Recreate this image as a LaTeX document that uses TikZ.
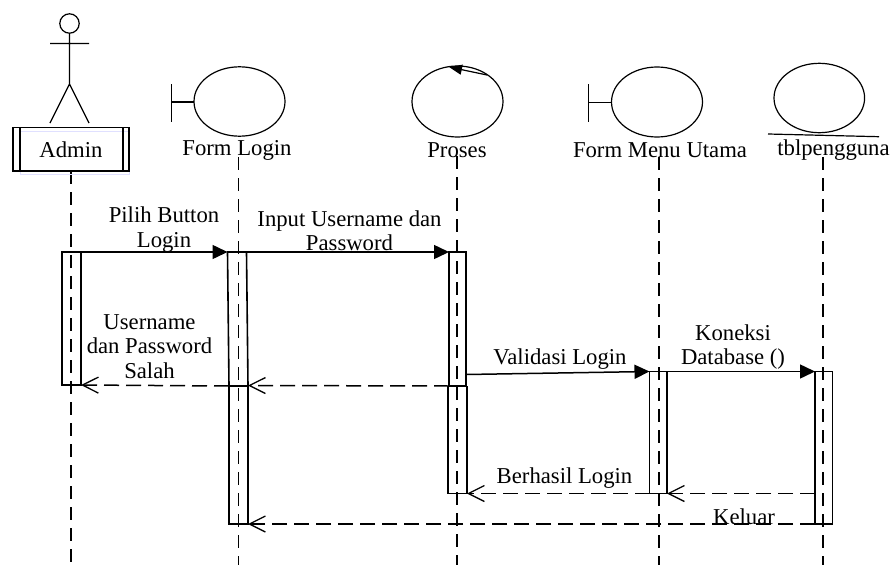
\documentclass[tikz,border=0pt]{standalone}
\usepackage{fontspec}
\setmainfont{Liberation Serif}
\usetikzlibrary{arrows.meta}
\tikzset{
  x=1pt,y=-1pt,
  lbl/.style={inner sep=0pt,font=\fontsize{22.7}{24.3}\selectfont,align=center},
  shapeline/.style={draw=black,line width=1.2pt},
  lifeline/.style={draw=black,line width=1.5pt,dash pattern=on 13pt off 8pt},
  activation/.style={draw=black,line width=1.6pt},
  call/.style={draw=black,line width=1.5pt,-{Triangle[length=15pt,width=14pt]}},
  reply/.style={draw=black,line width=1.5pt,dash pattern=on 15pt off 7pt,-{Straight Barb[length=16pt,width=16pt,line width=1.3pt]}},
}
\begin{document}
\begin{tikzpicture}
\useasboundingbox (0,0) rectangle (892,565);
% anchors
\coordinate (adminTop) at (71,171); \coordinate (adminEnd) at (71,565);
\coordinate (loginTop) at (238.5,157); \coordinate (loginEnd) at (238.5,565);
\coordinate (prosesTop) at (457,156); \coordinate (prosesEnd) at (457,565);
\coordinate (menuTop) at (659,157); \coordinate (menuEnd) at (659,565);
\coordinate (tblTop) at (823,157); \coordinate (tblEnd) at (823,565);
% lifelines
\draw[lifeline] (adminTop) -- (adminEnd);
\draw[lifeline] (loginTop) -- (loginEnd);
\draw[lifeline] (prosesTop) -- (prosesEnd);
\draw[lifeline] (menuTop) -- (menuEnd);
\draw[lifeline] (tblTop) -- (tblEnd);
% actor
\draw[shapeline] (69.5,23.5) circle (9.7);
\draw[shapeline] (69.5,33) -- (69.5,84) (50,43.5) -- (89,43.5) (50,123) -- (69.5,84) -- (89,123);
% admin box
\draw[draw=blue!12,line width=1pt] (20,131) rectangle (129,174);
\draw[shapeline] (13,127.5) rectangle (129,171) (20,127.5) -- (20,171) (123,127.5) -- (123,171);
\node[lbl] (admin) at (71,150) {Admin};
% boundaries
\draw[shapeline] (239.5,101.5) ellipse (45.5 and 34.7);
\draw[shapeline] (171.5,84) -- (171.5,122) (171.5,102) -- (194,102);
\node[lbl] (formlogin) at (237,150.5) {Form Login};
\draw[shapeline] (457.5,101.5) ellipse (45.5 and 35.5);
\coordinate (procTail) at (487,75); \coordinate (procTip) at (449,67);
\draw[shapeline,-{Triangle[length=13pt,width=10pt]}] (procTail) -- (procTip);
\node[lbl] (proses) at (457,150.5) {Proses};
\draw[shapeline] (657,102) ellipse (45.5 and 35);
\draw[shapeline] (588.7,84) -- (588.7,122) (588.7,102.5) -- (611.5,102.5);
\node[lbl] (formmenu) at (660,150.5) {Form Menu Utama};
\draw[shapeline] (819.3,98) ellipse (45.3 and 34.7);
\draw[shapeline] (768,134) -- (879,136.7);
\node[lbl] (tbl) at (833.5,150.5) {tblpengguna};
% activations
\draw[activation] (62,252) rectangle (81,385);
\draw[activation] (227.5,252) -- (246.5,252) -- (248,386) -- (229,386) -- cycle;
\draw[activation] (229,386) rectangle (248,524);
\draw[activation] (449,252) rectangle (466,386);
\draw[activation] (448,386.5) rectangle (467,493.5);
\draw[activation] (649.5,371.5) rectangle (667,493.5);
\draw[activation] (815,371.5) rectangle (832.5,524);
% anchors on activations
\coordinate (a1) at (81,252); \coordinate (l1) at (227.5,252);
\coordinate (l2) at (246.5,252); \coordinate (p1) at (449,252);
\coordinate (p2) at (466,374.5); \coordinate (m1) at (649.5,371.5);
\coordinate (m2) at (667,371.5); \coordinate (t1) at (815,371.5);
\coordinate (p3) at (449,386); \coordinate (l3) at (248,385.5);
\coordinate (l4) at (229,386); \coordinate (a2) at (81,385);
\coordinate (t2) at (815,493.5); \coordinate (m3) at (667,493.5);
\coordinate (m4) at (649.5,493.5); \coordinate (p4) at (467,493.5);
\coordinate (t3) at (815,524); \coordinate (l5) at (248,524);
% messages
\draw[call] (a1) -- (l1);
\draw[call] (l2) -- (p1);
\draw[call] (p2) -- (m1);
\draw[call] (m2) -- (t1);
\draw[reply] (p3) -- (l3);
\draw[reply] (l4) -- (a2);
\draw[reply] (t2) -- (m3);
\draw[reply] (m4) -- (p4);
\draw[reply] (t3) -- (l5);
% labels
\node[lbl] (m1a) at (164,229.5) {Pilih Button\\Login};
\node[lbl] (m2a) at (349.5,230.5) {Input Username dan\\Password};
\node[lbl] (m3a) at (149.5,346.5) {Username\\dan Password\\Salah};
\node[lbl] (m4a) at (560,359.5) {Validasi Login};
\node[lbl] (m5a) at (733,347) {Koneksi\\Database ()};
\node[lbl] (m6a) at (564.5,478) {Berhasil Login};
\node[lbl] (m7a) at (744,516.5) {Keluar};
\end{tikzpicture}
\end{document}
